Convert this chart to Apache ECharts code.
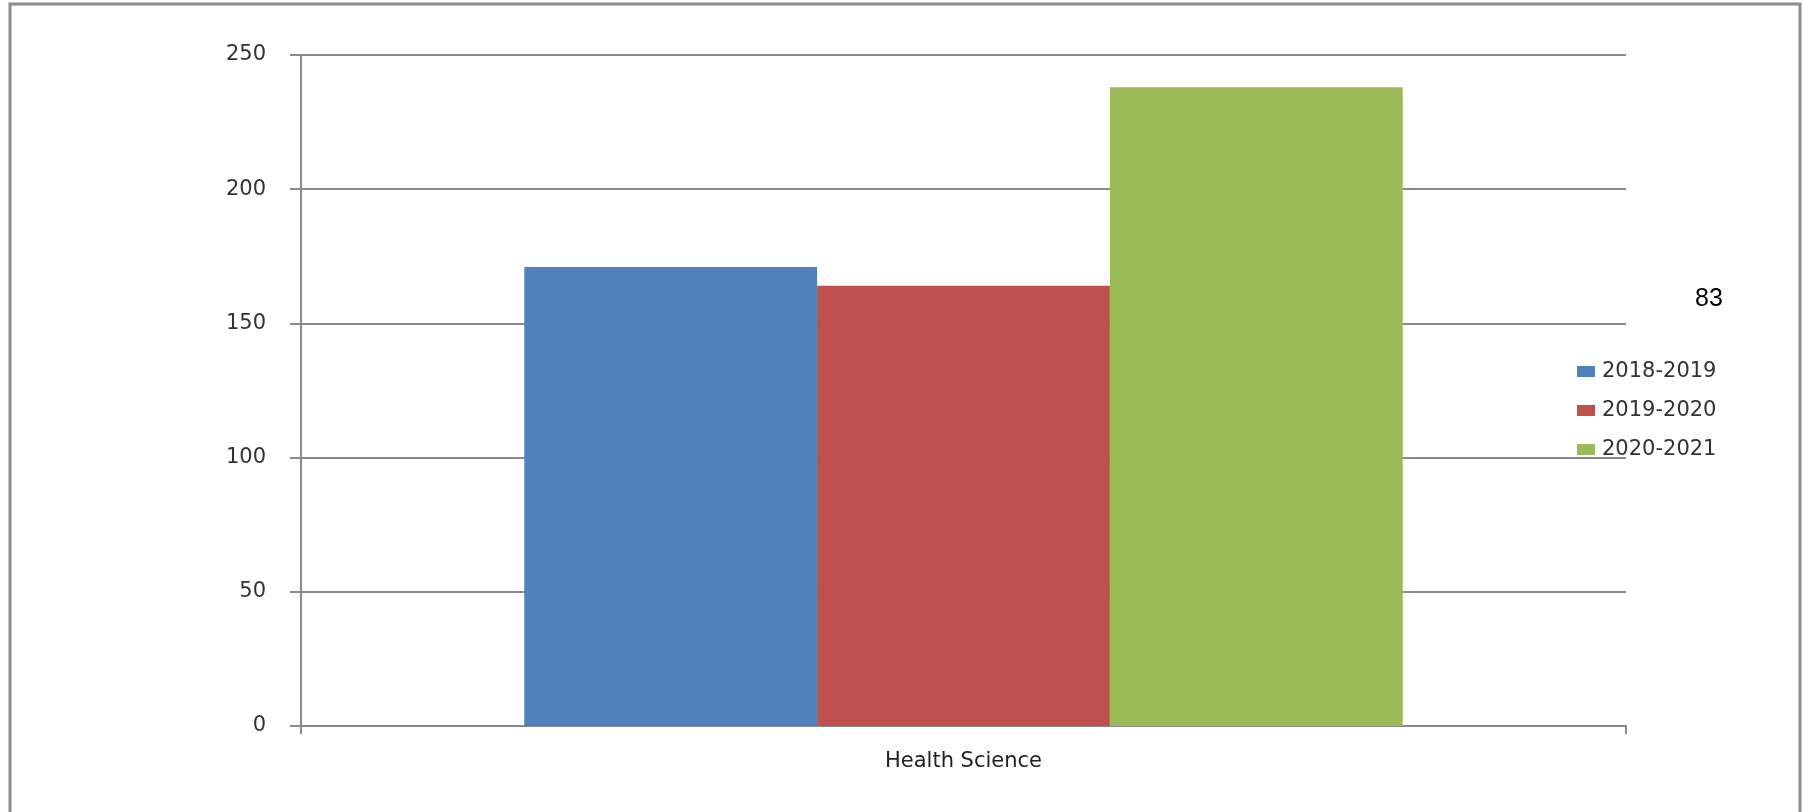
<!DOCTYPE html>
<html>
<head>
<meta charset="utf-8">
<title>Health Science</title>
<script src="https://cdn.jsdelivr.net/npm/echarts@6/dist/echarts.min.js"></script>
<style>
  html, body { margin: 0; padding: 0; background: #fff; }
  #chart { width: 1814px; height: 812px; }
</style>
</head>
<body>
<div id="chart"></div>
<script>
// data
var categories = ["Health Science"];
var seriesNames = ["2018-2019", "2019-2020", "2020-2021"];
var values2018 = [171];
var values2019 = [164];
var values2020 = [238];
var yTicks = [0, 50, 100, 150, 200, 250];
var pageNote = "83";

var colors = ["#4F81BD", "#C0504D", "#9BBB59"];
var lineColor = "#8a8a8a";

var myChart = echarts.init(document.getElementById("chart"));
var option = {
  backgroundColor: "#ffffff",
  animation: false,
  color: colors,
  grid: {
    left: 301,
    top: 55,
    right: 188,
    bottom: 86,
  },
  legend: {
    orient: "vertical",
    left: 1577,
    top: 361,
    padding: 0,
    itemWidth: 18,
    itemHeight: 11,
    itemGap: 18,
    icon: "rect",
    data: seriesNames,
    textStyle: {
      fontFamily: "DejaVu Sans",
      fontSize: 21,
      color: "#333333",
      padding: [0, 0, 0, 2],
    },
  },
  xAxis: [
    {
      type: "category",
      data: categories,
      axisLine: { lineStyle: { color: lineColor, width: 2 } },
      axisTick: { show: true, length: 8, lineStyle: { color: lineColor, width: 2 } },
      axisLabel: {
        margin: 25,
        fontFamily: "DejaVu Sans",
        fontSize: 21,
        color: "#222222",
      },
    },
  ],
  yAxis: [
    {
      type: "value",
      min: yTicks[0],
      max: yTicks[yTicks.length - 1],
      interval: yTicks[1] - yTicks[0],
      axisLine: { show: true, lineStyle: { color: lineColor, width: 2 } },
      axisTick: { show: true, length: 11, lineStyle: { color: lineColor, width: 2 } },
      splitLine: { lineStyle: { color: lineColor, width: 2 } },
      axisLabel: {
        margin: 35,
        fontFamily: "DejaVu Sans",
        fontSize: 21,
        color: "#333333",
      },
    },
  ],
  series: [
    {
      name: seriesNames[0],
      type: "bar",
      data: values2018,
      barGap: "0%",
      barCategoryGap: "33.7%",
    },
    {
      name: seriesNames[1],
      type: "bar",
      data: values2019,
      barGap: "0%",
      barCategoryGap: "33.7%",
    },
    {
      name: seriesNames[2],
      type: "bar",
      data: values2020,
      barGap: "0%",
      barCategoryGap: "33.7%",
    },
  ],
  graphic: [
    {
      type: "rect",
      shape: { x: 10, y: 4, width: 1790, height: 830 },
      style: { fill: "none", stroke: "#8c8c8c", lineWidth: 3 },
      silent: true,
    },
    {
      type: "text",
      left: 1695,
      top: 287,
      style: {
        text: pageNote,
        fontFamily: "Liberation Sans",
        fontSize: 25,
        fill: "#000000",
      },
    },
  ],
};
myChart.setOption(option);
</script>
</body>
</html>
